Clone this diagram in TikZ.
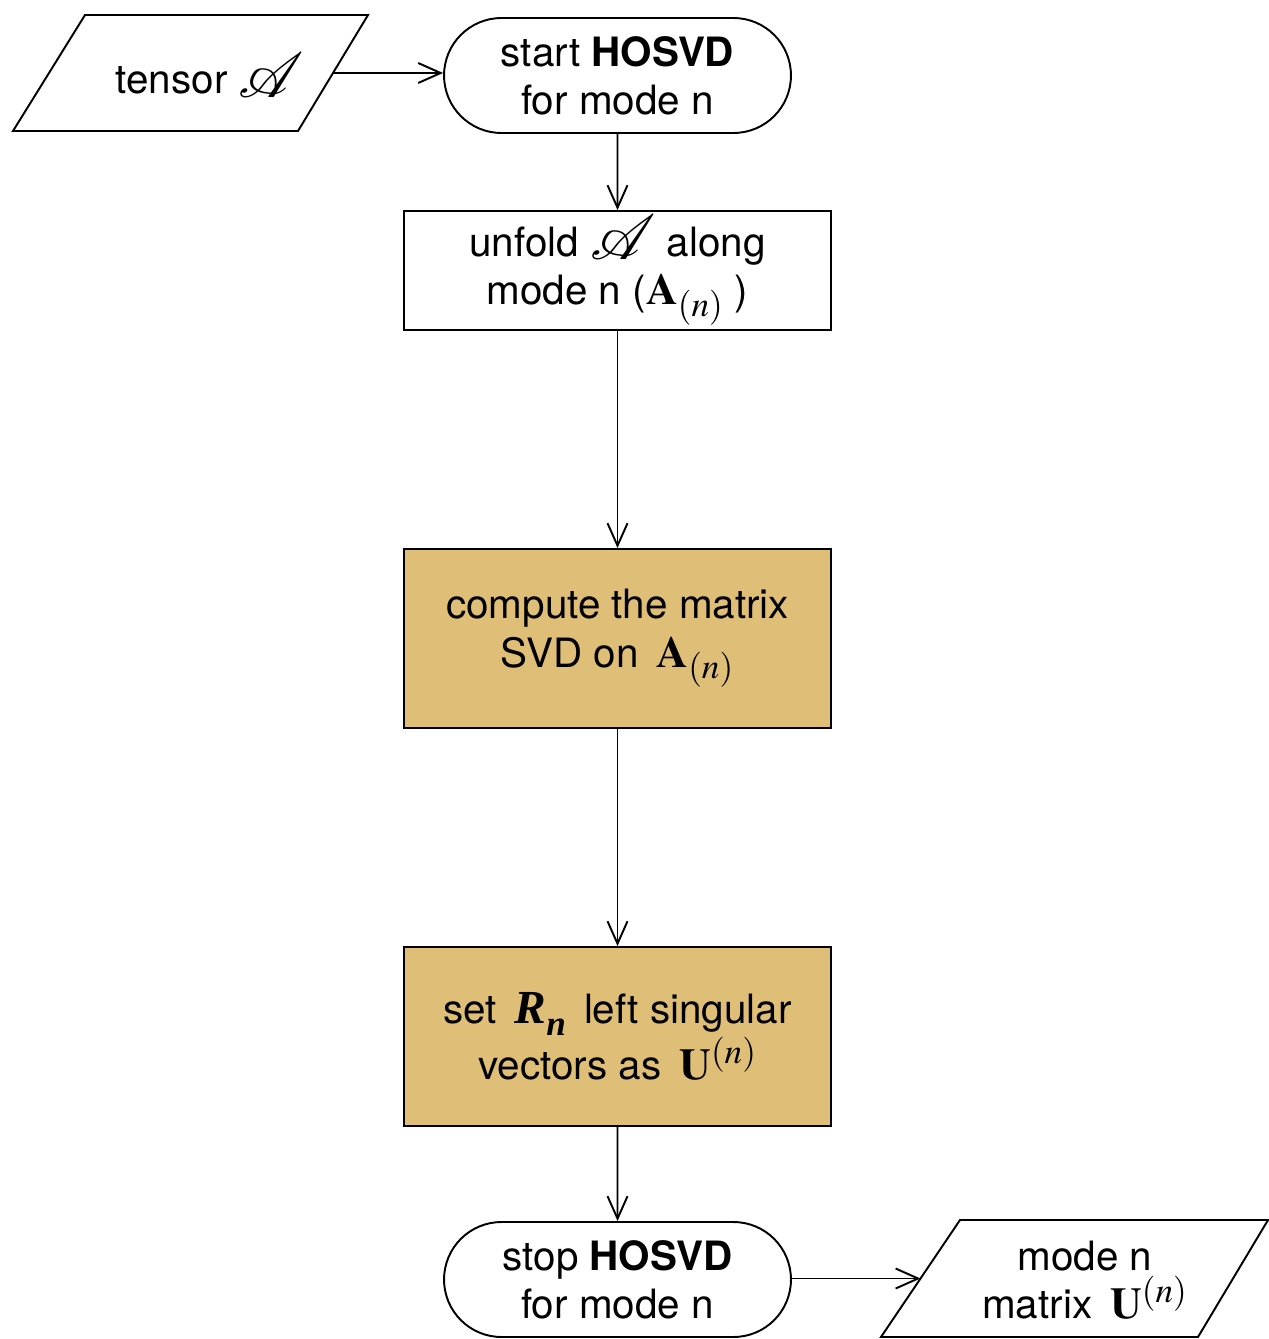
\documentclass[tikz,border=0pt]{standalone}
\usepackage{mathptmx}
\usepackage{mathrsfs}
\usepackage[no-math]{fontspec}
\setmainfont{TeX Gyre Heros}
\newfontfamily\timesf{Liberation Serif}
\usetikzlibrary{arrows.meta,shapes.misc}
\definecolor{gold}{RGB}{223,191,120}
\newcommand{\tensA}{\raisebox{-0.08em}{\scalebox{1.45}{$\mathscr{A}$}}}
\newcommand{\smallmath}[1]{\mbox{\fontsize{20}{20}\selectfont$#1$}}
\newcommand{\largemath}[1]{{\fontsize{25}{25}\selectfont$#1$}}
\newcommand{\Aun}{\largemath{\mathbf{A}_{\raisebox{-0.12em}{\smallmath{(n)}}}}}
\newcommand{\Uun}{\largemath{\mathbf{U}^{\smallmath{(n)}}}}
\newcommand{\Rn}{{\timesf\bfseries\itshape\fontsize{27}{27}\selectfont R\raisebox{-0.25em}{\fontsize{20}{20}\selectfont n}}}
\tikzset{
  txt/.style={font=\fontsize{23}{27.5}\selectfont, align=center, inner sep=0pt},
  procbox/.style={txt, draw, line width=1.1pt, minimum width=8.54cm},
  termbox/.style={txt, draw, rounded rectangle, line width=1.1pt, minimum width=6.94cm, minimum height=2.3cm},
  iobox/.style={line width=1.1pt, line join=miter},
  arr/.style={-{Straight Barb[length=0.45cm,width=0.4cm]}, line width=1.1pt}
}
\begin{document}
\begin{tikzpicture}[x=0.02cm,y=-0.02cm]
\useasboundingbox (0,0) rectangle (1268,1339);
% input parallelogram
\coordinate (tA) at (85,15);
\coordinate (tB) at (368,15);
\coordinate (tC) at (298,131);
\coordinate (tD) at (13,131);
\draw[iobox] (tA) -- (tB) -- (tC) -- (tD) -- cycle;
\coordinate (tR) at (333,73);
\node[txt] (tensor) at (210,75) {tensor \tensA};
% start
\node[termbox] (start) at (617.5,75.5) {start \textbf{HOSVD}\\for mode n};
% unfold
\node[procbox, minimum height=2.38cm] (unfold) at (617.5,270.5) {unfold \tensA\ along\\mode n (\Aun\ )};
% svd
\node[procbox, fill=gold, minimum height=3.58cm] (svd) at (617.5,638.5) {compute the matrix\\SVD on\, \Aun};
% set
\node[procbox, fill=gold, minimum height=3.58cm] (setU) at (617.5,1036.5) {set\, \Rn\, left singular\\vectors as\, \Uun};
% stop
\node[termbox] (stop) at (617.5,1279.5) {stop \textbf{HOSVD}\\for mode n};
% output parallelogram
\coordinate (oA) at (960,1220);
\coordinate (oB) at (1268,1220);
\coordinate (oC) at (1198,1337);
\coordinate (oD) at (881,1337);
\draw[iobox] (oA) -- (oB) -- (oC) -- (oD) -- cycle;
\coordinate (oL) at (920.5,1278.5);
\node[txt] (outU) at (1085,1280) {mode n\\matrix\, \Uun};
% connectors
\draw[arr] (tR) -- (start.west |- tR);
\draw[arr] (start) -- (unfold);
\draw[arr] (unfold) -- (svd);
\draw[arr] (svd) -- (setU);
\draw[arr] (setU) -- (stop);
\draw[arr] (stop.east |- oL) -- (oL);
\end{tikzpicture}
\end{document}
